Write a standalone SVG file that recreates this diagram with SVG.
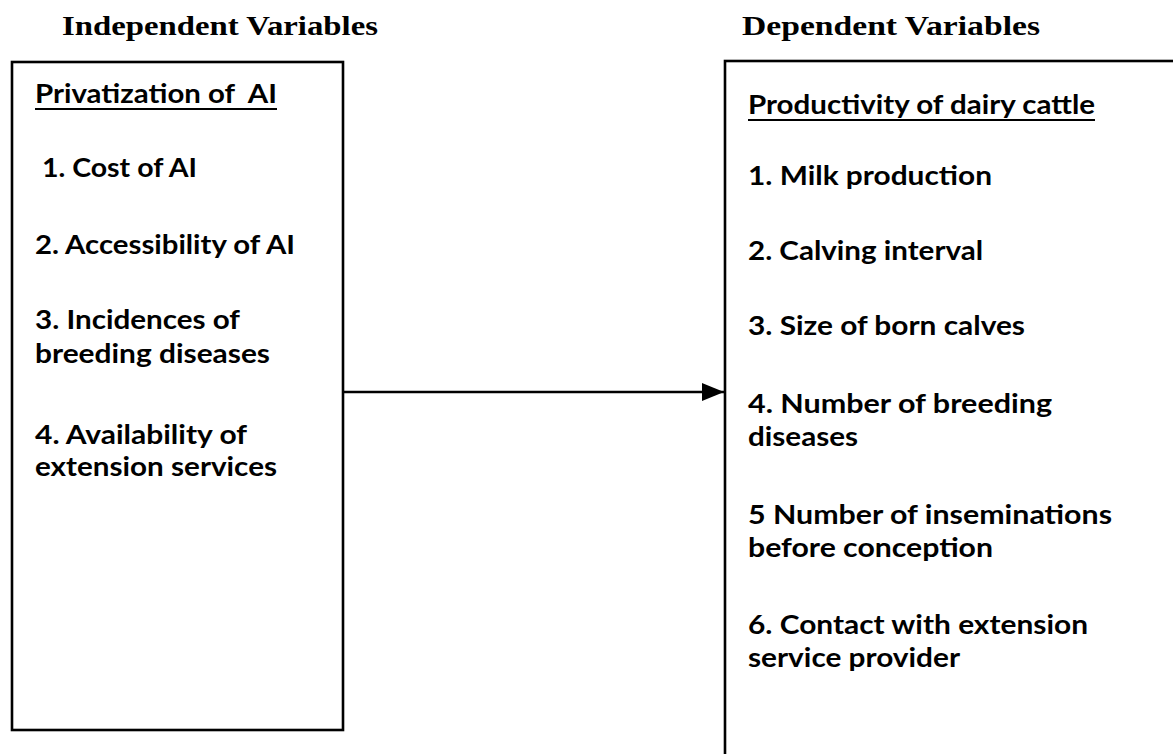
<svg xmlns="http://www.w3.org/2000/svg" width="1173" height="754" viewBox="0 0 1173 754">
<defs>
<style>
.hd{font-family:"Liberation Serif","Times New Roman",serif;font-weight:bold;font-size:27px;fill:#000}
.tx{font-family:Lato,"Open Sans","Liberation Sans",sans-serif;font-weight:bold;font-size:26px;fill:#000;white-space:pre}
.box{fill:#fff;stroke:#000;stroke-width:2.6}
.ul{stroke:#000;stroke-width:2}
.conn{stroke:#000;stroke-width:2.6;fill:none}
</style>
<marker id="ah" markerUnits="userSpaceOnUse" markerWidth="24" markerHeight="20" refX="22" refY="10" orient="auto">
<path d="M0,1 L22,10 L0,19 Z" fill="#000"/>
</marker>
</defs>
<rect width="1173" height="754" fill="#fff"/>
<g id="heading-independent">
<text class="hd" x="62" y="35" textLength="316" lengthAdjust="spacingAndGlyphs">Independent Variables</text>
</g>
<g id="heading-dependent">
<text class="hd" x="742" y="35" textLength="298" lengthAdjust="spacingAndGlyphs">Dependent Variables</text>
</g>
<g id="independent">
<rect class="box" x="12" y="62" width="331" height="668"/>
<text class="tx" x="35" y="103" textLength="242" lengthAdjust="spacingAndGlyphs">Privatization of  AI</text>
<line class="ul" x1="35" y1="109" x2="277" y2="109"/>
<text class="tx" x="42" y="177" textLength="155" lengthAdjust="spacingAndGlyphs">1. Cost of AI</text>
<text class="tx" x="35" y="254" textLength="260" lengthAdjust="spacingAndGlyphs">2. Accessibility of AI</text>
<text class="tx" x="35" y="329" textLength="205" lengthAdjust="spacingAndGlyphs">3. Incidences of</text>
<text class="tx" x="35" y="363" textLength="235" lengthAdjust="spacingAndGlyphs">breeding diseases</text>
<text class="tx" x="35" y="444" textLength="212" lengthAdjust="spacingAndGlyphs">4. Availability of</text>
<text class="tx" x="35" y="476" textLength="242" lengthAdjust="spacingAndGlyphs">extension services</text>
</g>
<g id="dependent">
<rect class="box" x="725" y="61" width="600" height="800"/>
<text class="tx" x="748" y="114" textLength="347" lengthAdjust="spacingAndGlyphs">Productivity of dairy cattle</text>
<line class="ul" x1="748" y1="120" x2="1095" y2="120"/>
<text class="tx" x="748" y="185" textLength="244" lengthAdjust="spacingAndGlyphs">1. Milk production</text>
<text class="tx" x="748" y="260" textLength="235" lengthAdjust="spacingAndGlyphs">2. Calving interval</text>
<text class="tx" x="748" y="335" textLength="277" lengthAdjust="spacingAndGlyphs">3. Size of born calves</text>
<text class="tx" x="748" y="413" textLength="304" lengthAdjust="spacingAndGlyphs">4. Number of breeding</text>
<text class="tx" x="748" y="446" textLength="110" lengthAdjust="spacingAndGlyphs">diseases</text>
<text class="tx" x="748" y="524" textLength="364" lengthAdjust="spacingAndGlyphs">5 Number of inseminations</text>
<text class="tx" x="748" y="557" textLength="245" lengthAdjust="spacingAndGlyphs">before conception</text>
<text class="tx" x="748" y="634" textLength="340" lengthAdjust="spacingAndGlyphs">6. Contact with extension</text>
<text class="tx" x="748" y="667" textLength="212" lengthAdjust="spacingAndGlyphs">service provider</text>
</g>
<g id="connectors">
<line class="conn" x1="343" y1="392" x2="724" y2="392" marker-end="url(#ah)"/>
</g>
</svg>
